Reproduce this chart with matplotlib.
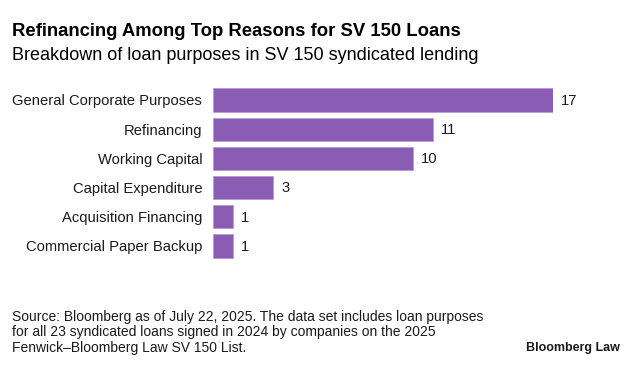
import matplotlib
matplotlib.use('Agg')
import matplotlib.pyplot as plt

plt.rcParams['font.family'] = ['Liberation Sans', 'DejaVu Sans']

# 数据
categories = ['General Corporate Purposes', 'Refinancing', 'Working Capital',
              'Capital Expenditure', 'Acquisition Financing', 'Commercial Paper Backup']
values = [17, 11, 10, 3, 1, 1]

W, H = 633, 367
fig = plt.figure(figsize=(W / 100, H / 100), dpi=100)
fig.patch.set_facecolor('white')

# 坐标区按像素放置
ax = fig.add_axes([213.3 / W, (H - 260.6) / H, 340 / W, 175.2 / H])
y = list(range(len(categories)))
ax.barh(y, values, height=0.8, color='#8a5cb4', edgecolor='#b49ad2', linewidth=0.6)
ax.set_xlim(0, 17)
ax.set_ylim(len(categories) - 0.5, -0.5)
ax.set_yticks(y)
ax.set_yticklabels(categories, fontsize=10.65, color='#1a1a1a')
ax.tick_params(axis='y', length=0, pad=8)
ax.set_xticks([])
for s in ax.spines.values():
    s.set_visible(False)

for yi, v in zip(y, values):
    ax.text(v + 0.4, yi + 0.03, str(v), va='center', ha='left', fontsize=10.65, color='#1a1a1a')

# 标题
fig.text(12 / W, 1 - 32 / H, 'Refinancing Among Top Reasons for SV 150 Loans',
         fontsize=13.35, fontweight='bold', va='center', ha='left', color='#000000')
fig.text(12 / W, 1 - 55 / H, 'Breakdown of loan purposes in SV 150 syndicated lending',
         fontsize=13, va='center', ha='left', color='#000000')

# 脚注
source = ('Source: Bloomberg as of July 22, 2025. The data set includes loan purposes\n'
          'for all 23 syndicated loans signed in 2024 by companies on the 2025\n'
          'Fenwick–Bloomberg Law SV 150 List.')
fig.text(12 / W, 1 - 310 / H, source, fontsize=10, va='top', ha='left',
         color='#1a1a1a', linespacing=1.12)
fig.text(620 / W, 1 - 348 / H, 'Bloomberg Law', fontsize=9, fontweight='bold',
         va='center', ha='right', color='#1a1a1a')

plt.savefig('out.png', dpi=100)
